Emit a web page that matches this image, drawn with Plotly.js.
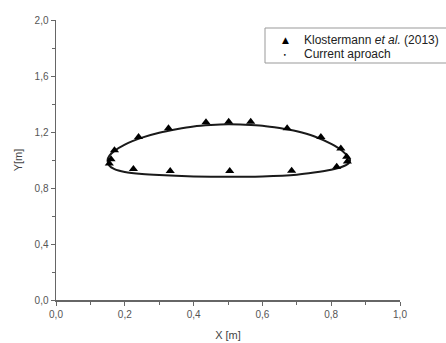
<!DOCTYPE html>
<html>
<head>
<meta charset="utf-8">
<script src="https://cdn.plot.ly/plotly-3.0.1.min.js"></script>
<style>html,body{margin:0;padding:0;background:#fff;overflow:hidden;}#chart{width:446px;height:343px;}</style>
</head>
<body>
<div id="chart"></div>
<script>
// Klostermann et al. (2013) reference points
const klosX = [0.155, 0.160, 0.170, 0.240, 0.327, 0.436, 0.502, 0.566, 0.672, 0.770, 0.828, 0.845, 0.847, 0.816, 0.685, 0.505, 0.332, 0.225];
const klosY = [0.975, 1.005, 1.070, 1.165, 1.226, 1.269, 1.274, 1.274, 1.226, 1.165, 1.083, 1.024, 0.990, 0.952, 0.924, 0.922, 0.921, 0.936];

// Current approach outline
const curX = [0.150, 0.155, 0.170, 0.200, 0.250, 0.300, 0.350, 0.400, 0.450, 0.500, 0.550, 0.600, 0.650, 0.700, 0.750, 0.800, 0.830, 0.850, 0.855,
              0.850, 0.830, 0.800, 0.750, 0.700, 0.600, 0.500, 0.400, 0.300, 0.250, 0.200, 0.170, 0.155, 0.150];
const curY = [1.000, 1.030, 1.065, 1.110, 1.160, 1.195, 1.220, 1.240, 1.250, 1.255, 1.252, 1.245, 1.228, 1.205, 1.170, 1.115, 1.070, 1.020, 1.000,
              0.975, 0.950, 0.930, 0.910, 0.895, 0.883, 0.880, 0.883, 0.892, 0.900, 0.915, 0.935, 0.960, 1.000];

const xTicks = [0, 0.2, 0.4, 0.6, 0.8, 1.0];
const yTicks = [0, 0.4, 0.8, 1.2, 1.6, 2.0];

const seriesNames = ['Klostermann <i>et al.</i> (2013)', 'Current aproach'];
const legendSymbols = ['\u25B2', '\u2022'];

const axisColor = '#666';
const fontFam = 'Liberation Sans, Arial, sans-serif';

const traces = [
  {x: curX, y: curY, mode: 'lines', name: seriesNames[1],
   line: {color: '#1a1a1a', width: 2, shape: 'spline', smoothing: 0.8},
   showlegend: false, hoverinfo: 'skip'},
  {x: klosX, y: klosY, mode: 'markers', name: seriesNames[0], showlegend: false,
   marker: {symbol: 'triangle-up', size: 8, color: '#000'}}
];

// legend box drawn in paper coordinates (plot area: x 56..400 px, y 20..300 px)
const pxX = px => (px - 56) / 344;
const pxY = py => (300 - py) / 280;
const rowY = [40, 54];

const annotations = [];
seriesNames.forEach((nm, i) => {
  annotations.push({
    xref: 'paper', yref: 'paper', x: pxX(285), y: pxY(rowY[i]),
    text: legendSymbols[i], showarrow: false, xanchor: 'center', yanchor: 'middle',
    font: {family: 'DejaVu Sans, sans-serif', size: i === 0 ? 9 : 6, color: '#000'}
  });
  annotations.push({
    xref: 'paper', yref: 'paper', x: pxX(302), y: pxY(rowY[i]),
    text: nm, showarrow: false, xanchor: 'left', yanchor: 'middle',
    font: {family: fontFam, size: 12, color: '#222'}
  });
});

const layout = {
  width: 446, height: 343,
  margin: {l: 56, r: 46, t: 20, b: 43},
  paper_bgcolor: '#fff', plot_bgcolor: '#fff',
  separators: ',.',
  font: {family: fontFam, size: 10, color: '#555'},
  showlegend: false,
  xaxis: {
    range: [0, 1.0], tickvals: xTicks, tickformat: '.1f',
    showgrid: false, zeroline: false, showline: true, linecolor: axisColor, linewidth: 1.5,
    ticks: 'outside', ticklen: 4, tickcolor: axisColor, tickwidth: 1,
    minor: {dtick: 0.1, tick0: 0, ticks: 'outside', ticklen: 3, tickcolor: axisColor, tickwidth: 1},
    tickfont: {size: 10, color: '#555'},
    title: {text: 'X [m]', font: {size: 11, color: '#444'}, standoff: 13}
  },
  yaxis: {
    range: [0, 2.0], tickvals: yTicks, tickformat: '.1f',
    showgrid: false, zeroline: false, showline: true, linecolor: axisColor, linewidth: 1.5,
    ticks: 'outside', ticklen: 4, tickcolor: axisColor, tickwidth: 1,
    minor: {dtick: 0.2, tick0: 0, ticks: 'outside', ticklen: 3, tickcolor: axisColor, tickwidth: 1},
    tickfont: {size: 10, color: '#555'},
    title: {text: 'Y[m]', font: {size: 11, color: '#444'}, standoff: 9}
  },
  shapes: [{
    type: 'rect', xref: 'paper', yref: 'paper',
    x0: pxX(265), x1: pxX(452), y0: pxY(63), y1: pxY(28),
    line: {color: '#999', width: 1}, fillcolor: 'rgba(255,255,255,0)', layer: 'above'
  }],
  annotations: annotations
};

Plotly.newPlot('chart', traces, layout, {displayModeBar: false, staticPlot: true});
</script>
</body>
</html>
